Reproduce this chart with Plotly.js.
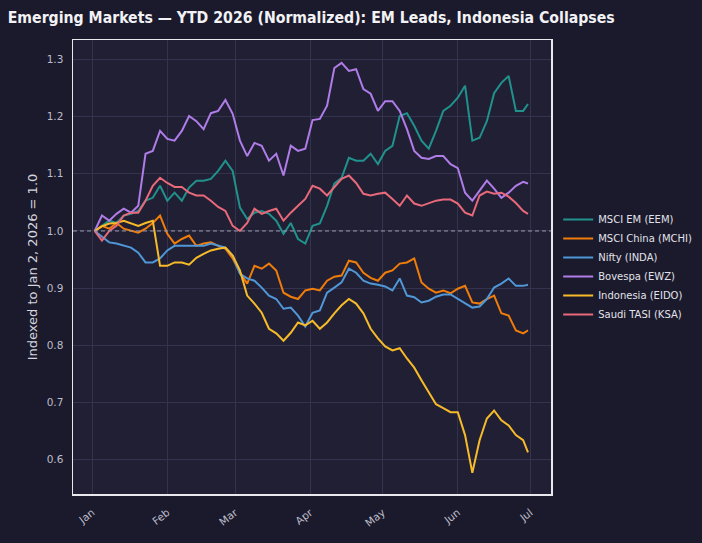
<!DOCTYPE html>
<html>
<head>
<meta charset="utf-8">
<script src="https://cdn.plot.ly/plotly-3.0.1.min.js"></script>
<style>html,body{margin:0;padding:0;background:#1b1a2c;}#chart{width:702px;height:543px;}</style>
</head>
<body>
<div id="chart"></div>
<script>
// Sample days (day-of-year offsets from Jan 1, 2026), every ~3 days from Jan 2 to Jun 30
const sampleDays = [1,4,7,10,13,16,19,22,25,28,31,34,37,40,43,46,49,52,55,58,61,64,67,70,73,76,79,82,85,88,91,94,97,100,103,106,109,112,115,118,121,124,127,130,133,136,139,142,145,148,151,154,157,160,163,166,169,172,175,178,180];

const seriesNames = ["MSCI EM (EEM)", "MSCI China (MCHI)", "Nifty (INDA)", "Bovespa (EWZ)", "Indonesia (EIDO)", "Saudi TASI (KSA)"];

const eem  = [1.000,1.009,1.018,1.014,1.027,1.030,1.035,1.053,1.058,1.079,1.053,1.067,1.053,1.076,1.088,1.088,1.091,1.105,1.123,1.105,1.041,1.021,1.032,1.035,1.030,1.018,0.995,1.014,0.986,0.978,1.009,1.013,1.044,1.083,1.093,1.128,1.123,1.123,1.135,1.117,1.140,1.149,1.201,1.206,1.184,1.158,1.144,1.175,1.210,1.219,1.233,1.254,1.158,1.163,1.192,1.241,1.259,1.271,1.210,1.210,1.222];
const mchi = [1.000,1.009,1.004,1.014,1.004,1.000,0.997,1.004,1.014,1.027,0.995,0.978,0.986,0.992,0.974,0.978,0.980,0.974,0.969,0.952,0.927,0.908,0.939,0.934,0.943,0.931,0.892,0.885,0.881,0.896,0.899,0.896,0.913,0.920,0.922,0.948,0.945,0.927,0.918,0.913,0.927,0.931,0.943,0.945,0.952,0.910,0.899,0.892,0.896,0.891,0.899,0.904,0.875,0.873,0.881,0.887,0.856,0.852,0.826,0.821,0.826];
const inda = [1.000,0.990,0.980,0.978,0.974,0.971,0.962,0.945,0.945,0.952,0.966,0.974,0.974,0.974,0.974,0.974,0.978,0.974,0.971,0.957,0.925,0.917,0.913,0.901,0.887,0.881,0.864,0.866,0.852,0.833,0.857,0.861,0.892,0.901,0.910,0.934,0.927,0.913,0.908,0.906,0.903,0.896,0.917,0.887,0.884,0.875,0.878,0.885,0.889,0.889,0.881,0.873,0.866,0.868,0.881,0.901,0.908,0.917,0.904,0.904,0.906];
const ewz  = [1.000,1.027,1.018,1.030,1.039,1.032,1.044,1.135,1.140,1.175,1.161,1.158,1.175,1.201,1.192,1.178,1.206,1.210,1.229,1.205,1.158,1.131,1.154,1.149,1.123,1.135,1.097,1.149,1.140,1.144,1.194,1.196,1.219,1.285,1.294,1.280,1.283,1.248,1.240,1.210,1.227,1.227,1.210,1.178,1.140,1.128,1.126,1.131,1.131,1.117,1.110,1.067,1.053,1.070,1.088,1.074,1.058,1.067,1.079,1.086,1.083];
const eido = [1.000,1.008,1.013,1.014,1.018,1.013,1.009,1.014,1.018,0.939,0.939,0.945,0.945,0.941,0.953,0.960,0.966,0.969,0.971,0.957,0.931,0.887,0.873,0.857,0.829,0.821,0.808,0.822,0.840,0.835,0.843,0.829,0.840,0.856,0.870,0.881,0.873,0.856,0.829,0.812,0.798,0.791,0.795,0.777,0.761,0.739,0.718,0.697,0.690,0.683,0.683,0.643,0.577,0.634,0.672,0.686,0.669,0.660,0.643,0.634,0.613];
const ksa  = [1.000,0.983,1.000,1.009,1.027,1.032,1.032,1.053,1.079,1.093,1.084,1.077,1.077,1.067,1.062,1.062,1.053,1.042,1.035,1.009,1.000,1.014,1.039,1.030,1.035,1.039,1.018,1.032,1.044,1.056,1.079,1.074,1.062,1.076,1.091,1.097,1.084,1.065,1.062,1.065,1.067,1.056,1.044,1.062,1.048,1.044,1.048,1.053,1.055,1.055,1.048,1.032,1.027,1.062,1.069,1.065,1.067,1.060,1.049,1.035,1.030];

const monthTicks = ["2026-01-01","2026-02-01","2026-03-01","2026-04-01","2026-05-01","2026-06-01","2026-07-01"];
const monthLabels = ["Jan","Feb","Mar","Apr","May","Jun","Jul"];
const yTicks = [0.6,0.7,0.8,0.9,1.0,1.1,1.2,1.3];

const colors = ["#21918c","#f07c0a","#4f97d6","#b07ce8","#f7bb2a","#e8697a"];

function dayToDate(d){
  const t = new Date(Date.UTC(2026,0,1+d));
  return t.toISOString().slice(0,10);
}
const dates = sampleDays.map(dayToDate);
const allSeries = [eem, mchi, inda, ewz, eido, ksa];

const traces = allSeries.map((vals,i)=>({
  x: dates, y: vals, type:'scatter', mode:'lines', name: seriesNames[i],
  line:{color: colors[i], width:2}
}));

const axisFont = {family:'DejaVu Sans, sans-serif', size:10.5, color:'#bdbdca'};

const layout = {
  width:702, height:543,
  paper_bgcolor:'#1b1a2c', plot_bgcolor:'#201f34',
  margin:{l:73, r:151, t:40, b:49, autoexpand:false},
  title:{text:'Emerging Markets — YTD 2026 (Normalized): EM Leads, Indonesia Collapses',
    font:{family:'DejaVu Sans Condensed, Liberation Sans Narrow, DejaVu Sans, sans-serif', size:15.7, color:'#f2f2f5', weight:'bold'},
    x:0.011, xanchor:'left', xref:'container', y:0.968, yanchor:'middle', yref:'container'},
  xaxis:{type:'date', range:['2025-12-24 01:00','2026-07-09 12:00'], automargin:false,
    tickvals: monthTicks, ticktext: monthLabels, tickangle:-38, ticklabelstandoff:7,
    tickfont: axisFont, gridcolor:'#34334e', gridwidth:1, zeroline:false,
    showline:true, mirror:true, linecolor:'#e8e8ee', linewidth:1.5, ticks:'', ticklen:0},
  yaxis:{range:[0.540,1.334], tickvals:yTicks, ticktext: yTicks.map(v=>v.toFixed(1)), automargin:false,
    tickfont: axisFont, gridcolor:'#34334e', gridwidth:1, zeroline:false, ticklabelstandoff:6,
    showline:true, mirror:true, linecolor:'#e8e8ee', linewidth:1.5, ticks:'',
    title:{text:'Indexed to Jan 2, 2026 = 1.0', font:{family:'DejaVu Sans, sans-serif', size:13, color:'#d4d4de'}, standoff:6}},
  shapes:[{type:'line', xref:'paper', x0:0, x1:1, yref:'y', y0:1.0, y1:1.0,
    line:{color:'#9a9aac', width:1, dash:'4px,3px'}}],
  legend:{x:1.015, xanchor:'left', y:0.5, yanchor:'middle', bgcolor:'rgba(0,0,0,0)',
    font:{family:'DejaVu Sans, sans-serif', size:10, color:'#e2e2ea'}, borderwidth:0},
  showlegend:true
};

Plotly.newPlot('chart', traces, layout, {displayModeBar:false, staticPlot:true});
</script>
</body>
</html>
